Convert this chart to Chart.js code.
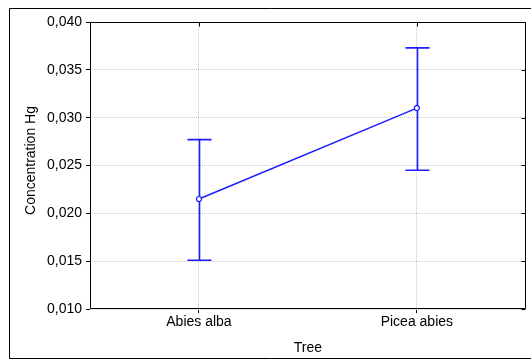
<!DOCTYPE html>
<html>
<head>
<meta charset="utf-8">
<script src="https://cdn.jsdelivr.net/npm/chart.js@4/dist/chart.umd.min.js"></script>
<style>
  html, body { margin: 0; padding: 0; background: #fff; }
  #wrap { width: 531px; height: 361px; position: relative; }
  canvas { display: block; }
</style>
</head>
<body>
<div id="wrap"><canvas id="chart" width="531" height="361"></canvas></div>
<script>
// Mean mercury concentration per tree species with its interval bounds
const categories = ['Abies alba', 'Picea abies'];
const meanHg = [0.0215, 0.0310];
const upperHg = [0.0277, 0.0373];
const lowerHg = [0.0151, 0.0245];
const yTicks = [0.010, 0.015, 0.020, 0.025, 0.030, 0.035, 0.040];
const yTitle = 'Concentration Hg';

const BLUE = 'rgb(28,28,255)';
const GRID = '#c9c9c9';
const FONT = '"Liberation Sans", Arial, Helvetica, sans-serif';

Chart.defaults.font.family = FONT;
Chart.defaults.font.size = 14;
Chart.defaults.color = '#000';

// Whiskers with caps, drawn beneath the mean markers
const errorBars = {
  id: 'errorBars',
  beforeDatasetsDraw(chart) {
    const { ctx, scales: { x, y } } = chart;
    const capHalf = 12;
    ctx.save();
    ctx.strokeStyle = BLUE;
    ctx.lineWidth = 1.6;
    categories.forEach((c, i) => {
      const px = Math.round(x.getPixelForValue(i)) + 0.5;
      const top = y.getPixelForValue(upperHg[i]);
      const bot = y.getPixelForValue(lowerHg[i]);
      ctx.beginPath();
      ctx.moveTo(px, top);
      ctx.lineTo(px, bot);
      ctx.moveTo(px - capHalf, top);
      ctx.lineTo(px + capHalf, top);
      ctx.moveTo(px - capHalf, bot);
      ctx.lineTo(px + capHalf, bot);
      ctx.stroke();
    });
    ctx.restore();
  }
};

// Plot frame with inward ticks on the right and top, the outer frame and the y title
const frame = {
  id: 'frame',
  afterDraw(chart) {
    const { ctx, chartArea: a, scales: { x, y } } = chart;
    const L = Math.round(a.left) + 0.5, R = Math.round(a.right) - 0.5;
    const T = Math.round(a.top) + 0.5, B = Math.round(a.bottom) - 0.5;
    ctx.save();
    ctx.strokeStyle = '#000';
    ctx.lineWidth = 1;
    ctx.beginPath();
    ctx.rect(L, T, R - L, B - T);
    yTicks.forEach(v => {
      const py = Math.round(y.getPixelForValue(v)) + 0.5;
      ctx.moveTo(R, py);
      ctx.lineTo(R - 4, py);
    });
    categories.forEach((c, i) => {
      const px = Math.round(x.getPixelForValue(i)) + 0.5;
      ctx.moveTo(px, T);
      ctx.lineTo(px, T + 4);
    });
    ctx.stroke();
    // outer frame
    ctx.beginPath();
    ctx.moveTo(chart.width + 2, 8.5);
    ctx.lineTo(9.5, 8.5);
    ctx.lineTo(9.5, 358.5);
    ctx.lineTo(chart.width + 2, 358.5);
    ctx.stroke();
    // y axis title
    ctx.translate(31, (a.top + a.bottom) / 2 - 5);
    ctx.rotate(-Math.PI / 2);
    ctx.font = '14px ' + FONT;
    ctx.fillStyle = '#000';
    ctx.textAlign = 'center';
    ctx.textBaseline = 'middle';
    ctx.fillText(yTitle, 0, 0);
    ctx.restore();
  }
};

new Chart(document.getElementById('chart'), {
  type: 'line',
  data: {
    labels: categories,
    datasets: [{
      data: meanHg,
      borderColor: BLUE,
      borderWidth: 1.5,
      pointRadius: 2.5,
      pointBorderWidth: 1.2,
      pointBackgroundColor: '#fff',
      pointBorderColor: BLUE,
      tension: 0
    }]
  },
  options: {
    responsive: false,
    animation: false,
    events: [],
    layout: { padding: { left: 0, top: 22, right: 2, bottom: 0 } },
    plugins: { legend: { display: false }, tooltip: { enabled: false } },
    scales: {
      x: {
        type: 'category',
        offset: true,
        afterFit(s) { s.height = 52; },
        grid: {
          offset: false,
          color: GRID,
          lineWidth: 1,
          drawTicks: true,
          tickLength: 4,
          tickColor: '#000',
          tickBorderDash: []
        },
        border: { display: false, dash: [1, 1] },
        ticks: { padding: 1, autoSkip: false, maxRotation: 0, color: '#000' },
        title: { display: true, text: 'Tree', color: '#000', padding: { top: 0, bottom: 4.6 } }
      },
      y: {
        min: yTicks[0],
        max: yTicks[yTicks.length - 1],
        afterFit(s) { s.width = 90; },
        afterBuildTicks(s) { s.ticks = yTicks.map(v => ({ value: v })); },
        grid: {
          color: GRID,
          lineWidth: 1,
          drawTicks: true,
          tickLength: 4,
          tickColor: '#000',
          tickBorderDash: []
        },
        border: { display: false, dash: [1, 1] },
        ticks: {
          padding: 4,
          color: '#000',
          callback: v => Number(v).toFixed(3).replace('.', ',')
        },
        title: { display: false }
      }
    }
  },
  plugins: [errorBars, frame]
});
</script>
</body>
</html>
